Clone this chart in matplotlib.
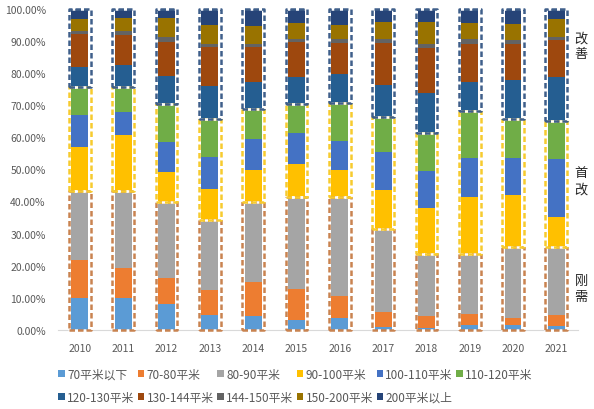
import numpy as np
import matplotlib.pyplot as plt
from matplotlib.ticker import FuncFormatter

plt.rcParams['font.family'] = ['Noto Sans CJK SC', 'DejaVu Sans']

years = ['2010', '2011', '2012', '2013', '2014', '2015',
         '2016', '2017', '2018', '2019', '2020', '2021']
labels = ['70平米以下', '70-80平米', '80-90平米', '90-100平米', '100-110平米',
          '110-120平米', '120-130平米', '130-144平米', '144-150平米',
          '150-200平米', '200平米以上']
colors = ['#5B9BD5', '#ED7D31', '#A5A5A5', '#FFC000', '#4472C4', '#70AD47',
          '#255E91', '#9E480E', '#636363', '#997300', '#264478']

# share (%) of each size band per year
s70 = [9.9, 9.9, 8.1, 4.5, 4.2, 3.1, 3.6, 1.0, 0.5, 1.6, 1.6, 1.2]
s70_80 = [11.9, 9.5, 8.2, 8.0, 10.6, 9.7, 7.0, 4.7, 3.7, 3.3, 2.2, 3.5]
s80_90 = [21.5, 23.9, 23.5, 21.8, 25.0, 28.5, 30.7, 25.8, 19.4, 18.7, 21.9, 21.0]
s90_100 = [13.7, 17.5, 9.4, 9.7, 10.1, 10.5, 8.4, 12.2, 14.5, 17.8, 16.4, 9.4]
s100_110 = [10.0, 7.1, 9.3, 9.8, 9.7, 9.5, 9.2, 11.7, 11.5, 12.1, 11.4, 18.1]
s110_120 = [8.6, 7.7, 11.9, 12.0, 9.2, 9.1, 11.8, 10.8, 11.7, 14.6, 12.3, 12.0]
s120_130 = [6.2, 7.0, 8.8, 10.1, 8.4, 8.4, 9.0, 10.0, 12.5, 9.0, 11.9, 13.5]
s130_144 = [10.4, 9.4, 10.4, 12.1, 10.8, 10.9, 9.7, 13.2, 14.0, 11.8, 11.4, 11.5]
s144_150 = [1.0, 1.2, 1.6, 1.1, 1.1, 1.0, 1.3, 1.3, 1.3, 1.8, 1.3, 1.0]
s150_200 = [3.5, 4.0, 5.8, 6.0, 5.5, 4.9, 4.2, 5.2, 6.8, 4.9, 4.9, 5.5]
s200 = [3.3, 2.8, 3.0, 4.9, 5.4, 4.4, 5.1, 4.1, 4.1, 4.4, 4.7, 3.3]

series = [s70, s70_80, s80_90, s90_100, s100_110, s110_120,
          s120_130, s130_144, s144_150, s150_200, s200]
# group name, first band, last band (exclusive), box colour, label height
groups = [('刚需', 0, 3, '#C98350', 0.13), ('首改', 3, 6, '#F7CB2E', 0.465),
          ('改善', 6, 11, '#3F5F8A', 0.885)]

data = np.array(series) / 100.0
x = np.arange(len(years))

fig = plt.figure(figsize=(5.94, 4.10), dpi=100)
ax = fig.add_axes([0.098, 0.193, 0.875, 0.783])

handles = []
bottom = np.zeros(len(years))
for vals, col, lab in zip(data, colors, labels):
    h = ax.bar(x, vals, 0.39, bottom=bottom, color=col, label=lab, zorder=2)
    handles.append(h)
    bottom += vals

cum = np.vstack([np.zeros(len(years)), np.cumsum(data, axis=0)])
bw = 0.5
for name, i0, i1, ec, ty in groups:
    for xi in x:
        y0, y1 = cum[i0, xi], cum[i1, xi]
        xs = [xi - bw / 2, xi + bw / 2, xi + bw / 2, xi - bw / 2, xi - bw / 2]
        ys = [y0, y0, y1, y1, y0]
        ax.plot(xs, ys, color=ec, lw=1.8, ls=(0, (2.2, 1.2)), gapcolor='white',
                zorder=3, clip_on=False)
    ax.text(11.42, ty, '\n'.join(name), fontsize=9.5, color='#262626',
            ha='left', va='center', linespacing=1.3)

ax.set_xlim(-0.5, 11.5)
ax.set_ylim(0, 1.0)
ax.set_xticks(x)
ax.set_xticklabels(years)
ax.set_yticks(np.arange(0, 1.01, 0.1))
ax.yaxis.set_major_formatter(FuncFormatter(lambda v, p: '{:.2f}%'.format(v * 100)))
ax.tick_params(length=0, labelsize=7.5, colors='#595959')
ax.tick_params(axis='x', pad=9.5)
ax.tick_params(axis='y', pad=9)
for sp in ['top', 'right', 'left']:
    ax.spines[sp].set_visible(False)
ax.spines['bottom'].set_color('#D9D9D9')

order = [0, 6, 1, 7, 2, 8, 3, 9, 4, 10, 5]
leg = fig.legend([handles[i] for i in order], [labels[i] for i in order],
                 ncol=6, loc='upper left', bbox_to_anchor=(0.098, 0.10),
                 frameon=False, fontsize=8.5, handlelength=0.55, handleheight=0.55,
                 handletextpad=0.2, columnspacing=0.3, labelspacing=0.85,
                 borderaxespad=0, borderpad=0)
for t in leg.get_texts():
    t.set_color('#595959')

fig.savefig('out.png', dpi=100)
